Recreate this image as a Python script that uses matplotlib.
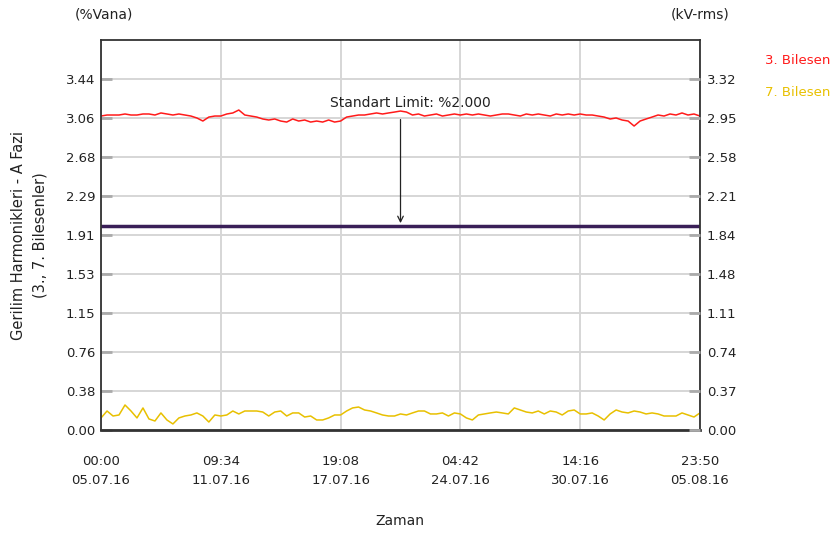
import numpy as np
import matplotlib
matplotlib.use('Agg')
import matplotlib.pyplot as plt
import matplotlib.dates as mdates
from datetime import datetime, timedelta

# time range of the record
t_start = datetime(2016, 7, 5, 0, 0)
t_end = datetime(2016, 8, 5, 23, 50)

# 3. harmonic (%) at even steps
h3 = [3.077, 3.087, 3.087, 3.087, 3.097, 3.087, 3.087, 3.097, 3.097, 3.087,
      3.107, 3.097, 3.087, 3.097, 3.087, 3.077, 3.058, 3.028, 3.067, 3.077,
      3.077, 3.097, 3.107, 3.136, 3.087, 3.077, 3.067, 3.048, 3.038, 3.048,
      3.028, 3.018, 3.048, 3.028, 3.038, 3.018, 3.028, 3.018, 3.038, 3.018,
      3.028, 3.067, 3.077, 3.087, 3.087, 3.097, 3.107, 3.097, 3.107, 3.116,
      3.126, 3.116, 3.087, 3.097, 3.077, 3.087, 3.097, 3.077, 3.087, 3.097,
      3.087, 3.097, 3.087, 3.097, 3.087, 3.077, 3.087, 3.097, 3.097, 3.087,
      3.077, 3.097, 3.087, 3.097, 3.087, 3.077, 3.097, 3.087, 3.097, 3.087,
      3.097, 3.087, 3.087, 3.077, 3.067, 3.048, 3.058, 3.038, 3.028, 2.979,
      3.028, 3.048, 3.067, 3.087, 3.077, 3.097, 3.087, 3.107, 3.087, 3.097,
      3.077]

# 7. harmonic (%)
h7 = [0.118, 0.186, 0.137, 0.147, 0.245, 0.186, 0.118, 0.216, 0.108, 0.088,
      0.167, 0.098, 0.059, 0.118, 0.137, 0.147, 0.167, 0.137, 0.078, 0.147,
      0.137, 0.147, 0.186, 0.157, 0.186, 0.186, 0.186, 0.176, 0.137, 0.176,
      0.186, 0.137, 0.167, 0.167, 0.127, 0.137, 0.098, 0.098, 0.118, 0.147,
      0.147, 0.186, 0.216, 0.225, 0.196, 0.186, 0.167, 0.147, 0.137, 0.137,
      0.157, 0.147, 0.167, 0.186, 0.186, 0.157, 0.157, 0.167, 0.137, 0.167,
      0.157, 0.118, 0.098, 0.147, 0.157, 0.167, 0.176, 0.167, 0.157, 0.216,
      0.196, 0.176, 0.167, 0.186, 0.157, 0.186, 0.176, 0.147, 0.186, 0.196,
      0.157, 0.157, 0.167, 0.137, 0.098, 0.157, 0.196, 0.176, 0.167, 0.186,
      0.176, 0.157, 0.167, 0.157, 0.137, 0.137, 0.137, 0.167, 0.147, 0.127,
      0.167]

limit = 2.0
limit_text = 'Standart Limit: %2.000'

left_ticks = ['0.00', '0.38', '0.76', '1.15', '1.53', '1.91', '2.29', '2.68', '3.06', '3.44']
right_ticks = ['0.00', '0.37', '0.74', '1.11', '1.48', '1.84', '2.21', '2.58', '2.95', '3.32']
left_step = 0.38222
right_step = 0.36889
x_labels = ['00:00\n05.07.16', '09:34\n11.07.16', '19:08\n17.07.16',
            '04:42\n24.07.16', '14:16\n30.07.16', '23:50\n05.08.16']
series_names = ['3. Bilesen', '7. Bilesen']
red = '#ff1a1a'
yellow = '#e8c000'
txt = '#222222'

n0 = mdates.date2num(t_start)
n1 = mdates.date2num(t_end)
t = np.linspace(n0, n1, len(h3))

fig = plt.figure(figsize=(8.33, 5.34), dpi=100)
ax = fig.add_axes([0.1213, 0.1948, 0.7190, 0.7303])

ax.plot(t, h3, color=red, lw=1.1)
ax.plot(t, h7, color=yellow, lw=1.1)
ax.axhline(limit, color='#3a1f58', lw=2.5)

mid = (n0 + n1) / 2
ax.annotate('', xy=(mid, limit), xytext=(mid, 3.07),
            arrowprops=dict(arrowstyle='->', color=txt, lw=0.9))
ax.text(n0 + (n1 - n0) * 0.516, 3.205, limit_text, ha='center', va='center',
        fontsize=10, color=txt)

ax.set_xlim(n0, n1)
ax.set_ylim(0, left_step * 10)
ax.set_yticks([left_step * i for i in range(len(left_ticks))])
ax.set_yticklabels(left_ticks)
xt = np.linspace(n0, n1, len(x_labels))
ax.set_xticks(xt)
ax.set_xticklabels(x_labels, linespacing=1.6)
ax.grid(True, color='#d6d6d6', lw=1.4)
ax.set_axisbelow(True)
ax.tick_params(axis='y', direction='in', length=8, width=2, color='#aaaaaa',
               labelsize=9.5, labelcolor=txt, pad=4)
ax.tick_params(axis='x', length=0, labelsize=9.5, labelcolor=txt, pad=18)
for s in ax.spines.values():
    s.set_color('#333333')
    s.set_linewidth(1.3)
ax.spines['bottom'].set_linewidth(2)

ax2 = ax.twinx()
ax2.set_ylim(0, right_step * 10)
ax2.set_yticks([right_step * i for i in range(len(right_ticks))])
ax2.set_yticklabels(right_ticks)
ax2.tick_params(axis='y', direction='in', length=8, width=2, color='#aaaaaa',
                labelsize=9.5, labelcolor=txt, pad=5)
for s in ax2.spines.values():
    s.set_visible(False)

fig.text(104 / 833, 1 - 15 / 534, '(%Vana)', ha='center', va='center', fontsize=10, color=txt)
fig.text(700 / 833, 1 - 15 / 534, '(kV-rms)', ha='center', va='center', fontsize=10, color=txt)
fig.text(765 / 833, 1 - 61 / 534, series_names[0], ha='left', va='center', fontsize=9.5, color=red)
fig.text(765 / 833, 1 - 93 / 534, series_names[1], ha='left', va='center', fontsize=9.5, color=yellow)
fig.text(29.5 / 833, 1 - 235 / 534, 'Gerilim Harmonikleri - A Fazi\n(3., 7. Bilesenler)',
         rotation=90, ha='center', va='center', fontsize=10.5, color=txt, linespacing=1.55)
fig.text(400 / 833, 1 - 521 / 534, 'Zaman', ha='center', va='center', fontsize=10, color=txt)

fig.savefig('out.png', dpi=100)
